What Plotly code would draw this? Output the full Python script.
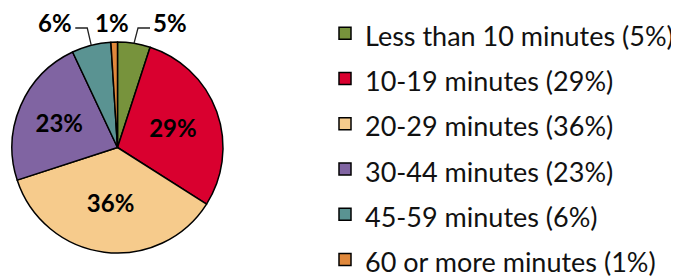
import math
import plotly.graph_objects as go

categories = ["Less than 10 minutes", "10-19 minutes", "20-29 minutes",
              "30-44 minutes", "45-59 minutes", "60 or more minutes"]
values = [5, 29, 36, 23, 6, 1]
colors = ["#77933C", "#D9002F", "#F6CB8C", "#8064A2", "#5A9392", "#E0883B"]
outside = [True, False, False, False, True, True]
leader = [True, False, False, False, True, False]

W, H = 679, 280
OFF = 8  # page body margin offset
# pie box in window pixels (left, top, right, bottom)
PX0, PY0, PX1, PY1 = 12, 42, 223, 253

def fx(px):
    return (px - OFF) / W

def fy(py):
    return 1 - (py - OFF) / H

legend_labels = [f'<span style="font-size:27px">{c} ({v}%)</span>' for c, v in zip(categories, values)]
templates = ["" if o else "%{value}%" for o in outside]

fig = go.Figure(go.Pie(
    labels=legend_labels,
    values=values,
    sort=False,
    direction="clockwise",
    rotation=0,
    marker=dict(colors=colors, line=dict(color="black", width=1.5)),
    texttemplate=templates,
    textposition="inside",
    textfont=dict(family="Lato", size=24, color="black", weight="bold"),
    insidetextorientation="horizontal",
    domain=dict(x=[fx(PX0), fx(PX1)], y=[fy(PY1), fy(PY0)]),
    hoverinfo="skip",
))

# outside labels with leader lines, positioned from slice angles
cx, cy = (PX0 + PX1) / 2, (PY0 + PY1) / 2
R = (PX1 - PX0) / 2
total = sum(values)
label_y = PY0 - 20
line_y = PY0 - 14
cum = 0
annotations, shapes = [], []
for v, o, ld in zip(values, outside, leader):
    mid = (cum + v / 2) / total * 2 * math.pi
    cum += v
    if not o:
        continue
    ex, ey = cx + R * math.sin(mid), cy - R * math.cos(mid)
    s = 1 if math.sin(mid) > 0 else -1
    if ld:
        qx = ex + s * 4
        rx = qx + s * 12
        shapes.append(dict(type="path", xref="paper", yref="paper",
                           path=f"M{fx(ex)},{fy(ey)} L{fx(qx)},{fy(line_y)} L{fx(rx)},{fy(line_y)}",
                           line=dict(color="#222222", width=1.3)))
        annotations.append(dict(x=fx(rx + s * 1), y=fy(label_y), xref="paper", yref="paper",
                                text=f"{v}%", showarrow=False,
                                xanchor="left" if s > 0 else "right", yanchor="middle",
                                font=dict(family="Lato", size=24, color="black", weight="bold")))
    else:
        annotations.append(dict(x=fx(ex - 2), y=fy(label_y), xref="paper", yref="paper",
                                text=f"{v}%", showarrow=False,
                                xanchor="center", yanchor="middle",
                                font=dict(family="Lato", size=24, color="black", weight="bold")))

fig.update_layout(
    width=W, height=H,
    margin=dict(l=0, r=0, t=0, b=0, autoexpand=False),
    paper_bgcolor="white",
    showlegend=True,
    legend=dict(x=(317 - OFF + 8) / W, y=1 + 2.5 / H, xanchor="left", yanchor="top",
                maxheight=600,
                font=dict(family="Lato", size=32.5, color="#111111"),
                borderwidth=0, bgcolor="rgba(0,0,0,0)"),
    annotations=annotations,
    shapes=shapes,
)

fig.write_html("out.html")
